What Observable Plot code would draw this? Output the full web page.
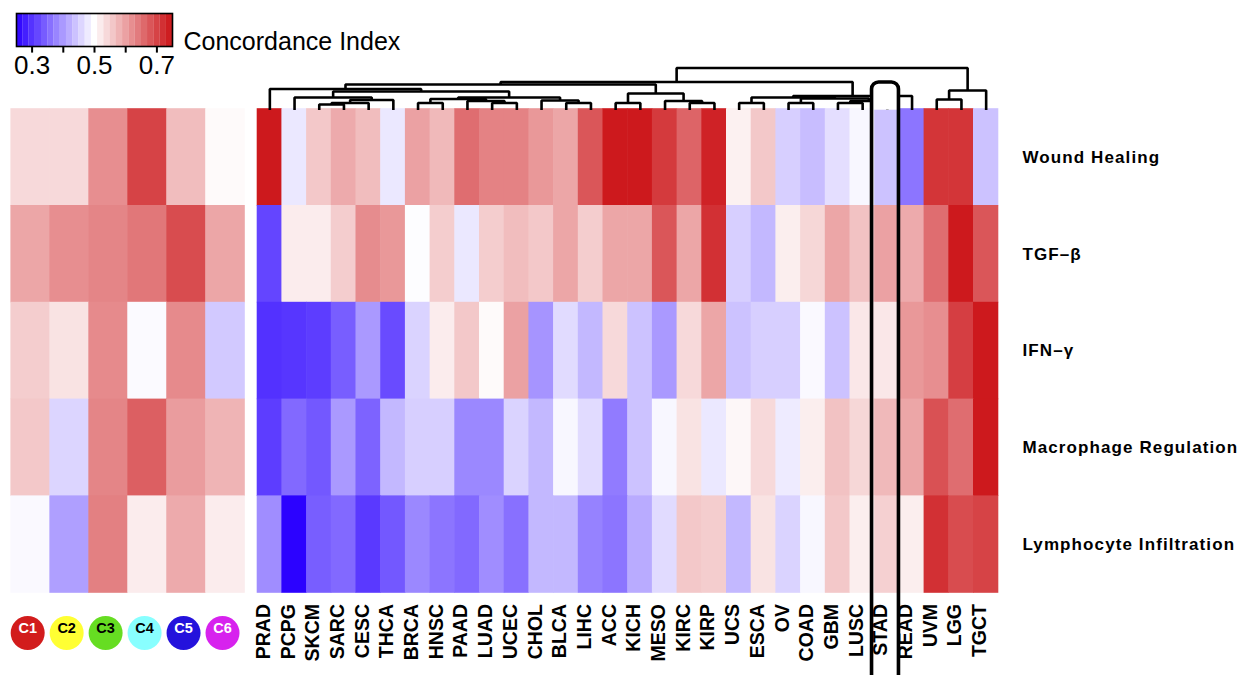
<!DOCTYPE html>
<html><head><meta charset="utf-8">
<script src="https://cdn.jsdelivr.net/npm/d3@7"></script>
<script src="https://cdn.jsdelivr.net/npm/@observablehq/plot@0.6"></script>
<style>
body{margin:0;background:#fff;}
#chart{position:relative;width:1247px;height:675px;overflow:hidden;font-family:"Liberation Sans",Arial,sans-serif;}
</style></head><body><div id="chart"></div>
<script>
// ---------- data ----------
const signatures = ["Wound Healing","TGF–β","IFN–γ","Macrophage Regulation","Lymphocyte Infiltration"];
const clusters = ["C1","C2","C3","C4","C5","C6"];
const clusterColors = ["#d21c1c","#ffff33","#66dd22","#88ffff","#2412dc","#d722ee"];
const clusterTextColors = ["white","black","black","black","white","white"];

const clusterWound = [0.54,0.54,0.62,0.70,0.57,0.505];
const clusterTGFb  = [0.595,0.62,0.63,0.645,0.69,0.595];
const clusterIFNg  = [0.553,0.53,0.625,0.495,0.625,0.447];
const clusterMacro = [0.558,0.459,0.63,0.67,0.605,0.58];
const clusterLymph = [0.494,0.406,0.635,0.52,0.59,0.52];

const cancers = ["PRAD","PCPG","SKCM","SARC","CESC","THCA","BRCA","HNSC","PAAD","LUAD","UCEC","CHOL","BLCA","LIHC","ACC","KICH","MESO","KIRC","KIRP","UCS","ESCA","OV","COAD","GBM","LUSC","STAD","READ","UVM","LGG","TGCT"];
const cancerWound = [0.745,0.477,0.558,0.59,0.57,0.477,0.60,0.575,0.655,0.633,0.633,0.61,0.595,0.68,0.745,0.745,0.71,0.665,0.735,0.515,0.558,0.453,0.435,0.468,0.492,0.44,0.365,0.715,0.715,0.44];
const cancerTGFb  = [0.318,0.52,0.52,0.553,0.622,0.61,0.498,0.553,0.477,0.553,0.57,0.558,0.595,0.553,0.595,0.595,0.68,0.595,0.72,0.453,0.43,0.518,0.543,0.595,0.565,0.60,0.59,0.655,0.745,0.68];
const cancerIFNg  = [0.298,0.303,0.31,0.342,0.40,0.324,0.457,0.52,0.558,0.505,0.60,0.395,0.465,0.43,0.54,0.44,0.40,0.54,0.595,0.44,0.453,0.453,0.494,0.44,0.525,0.525,0.61,0.62,0.705,0.745];
const cancerMacro = [0.31,0.353,0.336,0.40,0.347,0.43,0.453,0.453,0.383,0.383,0.457,0.43,0.492,0.465,0.371,0.44,0.492,0.53,0.477,0.508,0.54,0.48,0.518,0.565,0.543,0.575,0.595,0.685,0.655,0.745];
const cancerLymph = [0.388,0.252,0.342,0.353,0.306,0.336,0.383,0.365,0.353,0.388,0.36,0.43,0.43,0.377,0.365,0.418,0.465,0.558,0.553,0.43,0.53,0.457,0.492,0.558,0.518,0.55,0.518,0.72,0.69,0.70];

// dendrogram merges over cancers: [left, right, height]; numbers refer to earlier merges
const merges = [
  ["SKCM","SARC",5.5], [0,"CESC",7], [1,"THCA",10], ["PCPG",2,12.5],
  ["BRCA","HNSC",7], ["LUAD","UCEC",7], ["PAAD",5,9], [4,6,11],
  ["BLCA","LIHC",7], ["CHOL",8,9.5], [7,9,12.5], [3,10,18.5], ["PRAD",11,21],
  ["ACC","KICH",7], ["KIRC","KIRP",7], ["MESO",14,9], [13,15,16.5], [12,16,25.5],
  ["UCS","ESCA",7], ["OV","COAD",7], ["GBM","LUSC",7], [20,"STAD",9], [19,21,11.5],
  [18,22,12.5], [23,"READ",14], [17,24,28],
  ["UVM","LGG",10.5], [26,"TGCT",19.5], [25,27,42]
];
const highlighted = "STAD";

const legendTicks = [0.3,0.4,0.5,0.6,0.7];
const legendTickLabels = [0.3,0.5,0.7];

// ---------- helpers ----------
const colorScale = {type:"linear", domain:[0.25,0.5,0.75], range:["#2a00ff","#ffffff","#cc1418"], interpolate:"rgb", clamp:true};
const font = '"Liberation Sans", Arial, sans-serif';
const svgStyle = {position:"absolute", left:"0px", top:"0px", background:"none", fontFamily:font, overflow:"visible"};
const W = 1247, H = 675;
const topY = 108.5, bottomY = 592.5;

const clusterRows = [clusterWound, clusterTGFb, clusterIFNg, clusterMacro, clusterLymph];
const cancerRows = [cancerWound, cancerTGFb, cancerIFNg, cancerMacro, cancerLymph];
const clusterCells = signatures.flatMap((s,r) => clusters.map((c,i) => ({row:s, col:c, value:clusterRows[r][i]})));
const cancerCells = signatures.flatMap((s,r) => cancers.map((c,i) => ({row:s, col:c, value:cancerRows[r][i]})));

const chart = document.getElementById("chart");

// ---------- left heatmap (clusters) ----------
const leftMap = Plot.plot({
  width: W, height: H, marginLeft: 10.7, marginRight: W-244.5, marginTop: topY, marginBottom: H-bottomY,
  style: svgStyle,
  x: {domain: clusters, padding: 0, round: false, axis: null},
  y: {domain: signatures, padding: 0, round: false, axis: null},
  color: colorScale,
  marks: [
    Plot.cell(clusterCells, {x:"col", y:"row", fill:"value", inset:-0.3}),
    ...clusters.map((c,i) => Plot.dot([c], {x: d=>d, r: 17, fill: clusterColors[i], frameAnchor:"bottom", dy: 40, dx: -3})),
    ...clusters.map((c,i) => Plot.text([c], {x: d=>d, text: d=>d, fill: clusterTextColors[i], fontWeight:"bold", fontSize: 14.5, frameAnchor:"bottom", dy: 40, dx: -3}))
  ]
});
chart.appendChild(leftMap);

// ---------- right heatmap (cancers) ----------
const rightMap = Plot.plot({
  width: W, height: H, marginLeft: 257, marginRight: W-998, marginTop: topY, marginBottom: H-bottomY,
  style: svgStyle,
  x: {domain: cancers, padding: 0, round: false, axis: null},
  y: {domain: signatures, padding: 0, round: false, axis: null},
  color: colorScale,
  marks: [
    Plot.cell(cancerCells, {x:"col", y:"row", fill:"value", inset:-0.3}),
    Plot.text(cancers, {x: d=>d, text: d=>d, frameAnchor:"bottom", dy: 11, rotate: -90, textAnchor:"end", fontWeight:"bold", fontSize: 19.5, fill:"black"}),
    Plot.text(signatures, {y: d=>d, text: d=>d, frameAnchor:"right", dx: 24, textAnchor:"start", fontWeight:"bold", fontSize: 17, fill:"black"})
  ]
});
chart.appendChild(rightMap);
d3.select(rightMap).selectAll("text").filter(function(){ return signatures.includes(this.textContent); }).attr("letter-spacing", "1.1px");

// ---------- dendrogram + highlight ----------
const nodes = [];
const posOf = ref => typeof ref === "string" ? {x: cancers.indexOf(ref) + 0.5, h: 0} : nodes[ref];
const dendroPts = [];
merges.forEach(([a,b,h], k) => {
  const A = posOf(a), B = posOf(b);
  nodes.push({x: (A.x+B.x)/2, h});
  dendroPts.push({id:k, x:A.x, h:A.h}, {id:k, x:A.x, h}, {id:k, x:B.x, h}, {id:k, x:B.x, h:B.h});
});
const hiIdx = d => cancers.indexOf(d);
const dendro = Plot.plot({
  width: W, height: H, marginLeft: 257, marginRight: W-998, marginTop: 67.5, marginBottom: H-109.5,
  style: svgStyle,
  x: {domain:[0, cancers.length], axis:null},
  y: {domain:[0, 42], axis:null},
  marks: [
    Plot.line(dendroPts, {x:"x", y:"h", z:"id", stroke:"black", strokeWidth:2.6, strokeLinejoin:"miter", strokeLinecap:"butt"}),
    Plot.rect([highlighted], {x1: d=>hiIdx(d)-0.12, x2: d=>hiIdx(d)+0.97, y1: -0.2, y2: 27.5, fill:"white"}),
    Plot.rect([highlighted], {x1: d=>hiIdx(d)-0.12, x2: d=>hiIdx(d)+0.97, y1: -700, y2: 27.5, rx: 7, fill:"none", stroke:"black", strokeWidth:3.6})
  ]
});
chart.appendChild(dendro);

// ---------- legend ----------
const bins = d3.range(0.25, 0.75, 0.02);
const legend = Plot.plot({
  width: 420, height: 80, marginLeft: 16, marginRight: 248, marginTop: 13, marginBottom: 34,
  style: svgStyle,
  x: {domain:[0.25,0.75], axis:null},
  y: {domain:[0,1], axis:null},
  color: colorScale,
  marks: [
    Plot.rect(bins, {x1: d=>d, x2: d=>d+0.0205, y1: 0, y2: 1, fill: d=>d+0.01}),
    Plot.frame({stroke:"black", strokeWidth:1.6}),
    Plot.ruleX(legendTicks, {x: d=>d, y1: 0, y2: -0.2, stroke:"black", strokeWidth:2}),
    Plot.text(legendTickLabels, {x: d=>d, y: -0.27, text: d=>d.toFixed(1), fontSize: 26, lineAnchor:"top", fill:"black"}),
    Plot.text(["Concordance Index"], {x: 0.75, y: 0.15, dx: 11, text: d=>d, textAnchor:"start", fontSize: 25, fill:"black"})
  ]
});
chart.appendChild(legend);
</script></body></html>
